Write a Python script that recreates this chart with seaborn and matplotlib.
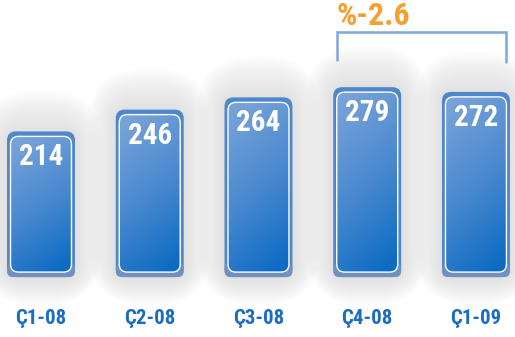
import numpy as np
import matplotlib
matplotlib.use("Agg")
import matplotlib.pyplot as plt
import seaborn as sns
from matplotlib.patches import FancyBboxPatch
from matplotlib.colors import LinearSegmentedColormap
from matplotlib import font_manager

quarters = ["Ç1-08", "Ç2-08", "Ç3-08", "Ç4-08", "Ç1-09"]
values = [214, 246, 264, 279, 272]
change_label = "%-2.6"

sns.set_theme(style="white")
names = {f.name for f in font_manager.fontManager.ttflist}
narrow = [n for n in ["Liberation Sans Narrow", "Roboto Condensed", "Open Sans Condensed"] if n in names]
plt.rcParams['font.family'] = narrow + ['DejaVu Sans']
plt.rcParams['font.stretch'] = 'condensed'

W, H = 515, 337
fig = plt.figure(figsize=(W / 100, H / 100), dpi=100)
ax = fig.add_axes([0, 0, 1, 1])
sns.barplot(x=quarters, y=values, ax=ax, width=0.625, color="#4f88cc")
xlim = (-0.377, 4.359)
ylim = (-88, 407)
ax.set_xlim(*xlim)
ax.set_ylim(*ylim)
ax.axis('off')

# pixels per data unit
sx = W / (xlim[1] - xlim[0])
sy = H / (ylim[1] - ylim[0])


def rbox(x0, y0, w, h, r_px, **kw):
    return FancyBboxPatch((x0, y0), w, h,
                          boxstyle=f"round,pad=0,rounding_size={r_px / sx}",
                          mutation_aspect=sx / sy, **kw)


cmap = LinearSegmentedColormap.from_list("bar", ["#78a3da", "#4a89cf", "#0c6bc3"])
gy, gx = np.mgrid[0:1:200j, 0:1:60j]
grad = np.clip(0.85 * gy + 0.25 * gx - 0.05, 0, 1)

bars = list(ax.patches)
for p, v in zip(bars, values):
    p.set_visible(False)
    x0, w, h = p.get_x(), p.get_width(), p.get_height()
    cx = x0 + w / 2

    # soft grey glow
    for k in range(12):
        pad = 2 + 2.3 * k
        top = 1.5 * pad
        ax.add_patch(rbox(x0 - pad / sx, -pad / sy, w + 2 * pad / sx,
                          h + (pad + top) / sy, 12 + 1.6 * pad,
                          fc="#8a8a8a", ec="none", alpha=0.02, zorder=1))

    # outer frame
    ax.add_patch(rbox(x0, 0, w, h, 9, fc="#4f87cb", ec="none", zorder=2))
    ax.add_patch(rbox(x0, 0, w, 14 / sy, 6, fc="#7090c2", ec="none", zorder=2))

    # inner gradient panel
    ix0, iy0 = x0 + 3.5 / sx, 5 / sy
    iw, ih = w - 7 / sx, h - 10 / sy
    inner = rbox(ix0, iy0, iw, ih, 8, fc="none", ec="white", lw=1.0, zorder=4)
    ax.add_patch(inner)
    im = ax.imshow(grad, cmap=cmap, extent=[ix0, ix0 + iw, iy0, iy0 + ih],
                   origin='upper', aspect='auto', zorder=3, interpolation='bilinear')
    im.set_clip_path(inner)

    ax.text(cx, h - 12 / sy, str(v), ha='center', va='top', color='white',
            fontsize=21, fontweight='bold', zorder=5)

for i, q in enumerate(quarters):
    ax.text(i, -41 / sy, q, ha='center', va='center', color="#1a6dc0",
            fontsize=15, fontweight='bold')

# bracket over the last two quarters
left = bars[3].get_x() + 4 / sx
right = bars[4].get_x() + bars[4].get_width() - 4 / sx
top_y = 245 / sy
ax.plot([left, left, right, right],
        [217 / sy, top_y, top_y, 215 / sy],
        color="#7ea7db", lw=1.8, solid_joinstyle='miter')
ax.text(left - 1 / sx, 261 / sy, change_label, ha='left', va='center',
        color="#f5a033", fontsize=23, fontweight='bold')

ax.set_xlim(*xlim)
ax.set_ylim(*ylim)
fig.savefig("out.png", dpi=100)
